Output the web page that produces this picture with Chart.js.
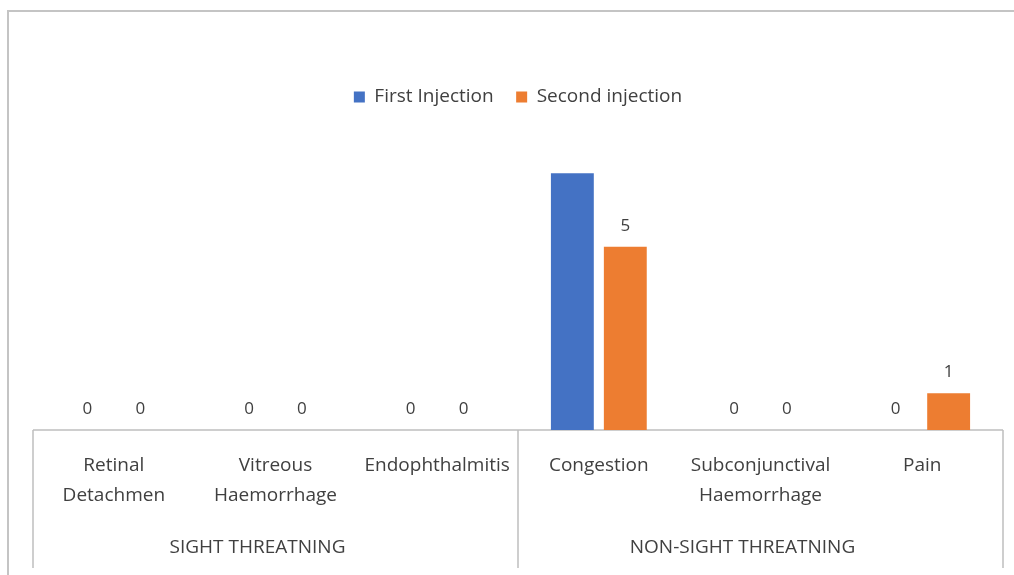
<!DOCTYPE html>
<html>
<head>
<meta charset="utf-8">
<script src="https://cdn.jsdelivr.net/npm/chart.js@4"></script>
<style>
  html, body { margin: 0; padding: 0; background: #fff; width: 1014px; height: 575px; overflow: hidden; }
  #frame { position: absolute; left: 7px; top: 10px; width: 1100px; height: 700px;
           border-top: 2px solid #c4c4c4; border-left: 2px solid #c4c4c4; }
  #wrap { position: absolute; left: 0; top: 0; width: 1014px; height: 575px; }
</style>
</head>
<body>
<div id="frame"></div>
<div id="wrap"><canvas id="c"></canvas></div>
<script>
// Complication categories (multi-line labels) and their groups
const categories = [
  ['Retinal', 'Detachmen'],
  ['Vitreous', 'Haemorrhage'],
  ['Endophthalmitis'],
  ['Congestion'],
  ['Subconjunctival', 'Haemorrhage'],
  ['Pain']
];
const groups = ['SIGHT THREATNING', 'NON-SIGHT THREATNING'];
const groupSizes = [3, 3];

const seriesNames = ['First Injection', 'Second injection'];
const firstInjection = [0, 0, 0, 7, 0, 0];
const secondInjection = [0, 0, 0, 5, 0, 1];

// [datasetIndex, pointIndex] pairs that carry no value label
const unlabeledPoints = [[0, 3]];

const FONT = '"Open Sans", "Liberation Sans", sans-serif';
const TEXT = '#404040';
const LINE = '#bfbfbf';
const FRAME_BOTTOM_GAP = 7;

// Frame of the two-level category axis: baseline plus group separators
const axisBox = {
  id: 'axisBox',
  beforeDatasetsDraw(chart) {
    const { ctx, chartArea } = chart;
    const x = chart.scales.x;
    const bottom = chart.height - FRAME_BOTTOM_GAP;
    ctx.save();
    ctx.strokeStyle = LINE;
    ctx.lineWidth = 1.5;
    ctx.beginPath();
    ctx.moveTo(x.left, chartArea.bottom);
    ctx.lineTo(x.right, chartArea.bottom);
    let idx = -0.5;
    const bounds = [idx];
    groupSizes.forEach(n => { idx += n; bounds.push(idx); });
    bounds.forEach(b => {
      const px = Math.round(x.getPixelForValue(b));
      ctx.moveTo(px, chartArea.bottom);
      ctx.lineTo(px, bottom);
    });
    ctx.stroke();
    ctx.restore();
  }
};

// Value labels above each bar
const valueLabels = {
  id: 'valueLabels',
  afterDatasetsDraw(chart) {
    const { ctx } = chart;
    ctx.save();
    ctx.font = '17px ' + FONT;
    ctx.fillStyle = TEXT;
    ctx.textAlign = 'center';
    ctx.textBaseline = 'middle';
    chart.data.datasets.forEach((ds, di) => {
      const meta = chart.getDatasetMeta(di);
      meta.data.forEach((bar, i) => {
        if (unlabeledPoints.some(p => p[0] === di && p[1] === i)) return;
        ctx.fillText(String(ds.data[i]), bar.x, bar.y - 21);
      });
    });
    ctx.restore();
  }
};

function build() {
  new Chart(document.getElementById('c'), {
    type: 'bar',
    data: {
      labels: categories,
      datasets: [
        { label: seriesNames[0], data: firstInjection, backgroundColor: '#4472C4' },
        { label: seriesNames[1], data: secondInjection, backgroundColor: '#ED7D31' }
      ]
    },
    options: {
      responsive: true,
      maintainAspectRatio: false,
      animation: false,
      categoryPercentage: 0.655,
      barPercentage: 0.81,
      layout: { padding: { left: 33, right: 11, top: 65, bottom: 11 } },
      plugins: {
        legend: {
          position: 'top',
          labels: {
            font: { family: FONT, size: 19 },
            color: TEXT,
            boxWidth: 11,
            boxHeight: 11,
            padding: 22.5
          }
        },
        tooltip: { enabled: false }
      },
      scales: {
        x: {
          weight: 0,
          grid: { display: false, drawTicks: false },
          border: { display: false },
          ticks: {
            font: { family: FONT, size: 19, lineHeight: 30 / 19 },
            color: TEXT,
            padding: 21,
            maxRotation: 0,
            autoSkip: false
          }
        },
        x2: {
          type: 'category',
          position: 'bottom',
          weight: 1,
          labels: groups,
          offset: true,
          grid: { display: false, drawTicks: false },
          border: { display: false },
          ticks: {
            font: { family: FONT, size: 19, lineHeight: 26 / 19 },
            color: TEXT,
            padding: 3,
            labelOffset: -18,
            maxRotation: 0,
            autoSkip: false
          }
        },
        y: {
          display: false,
          min: 0,
          max: 8.55
        }
      }
    },
    plugins: [axisBox, valueLabels]
  });
}

if (document.fonts && document.fonts.load) {
  Promise.all([document.fonts.load('17px "Open Sans"')]).then(build, build);
} else {
  build();
}
</script>
</body>
</html>
